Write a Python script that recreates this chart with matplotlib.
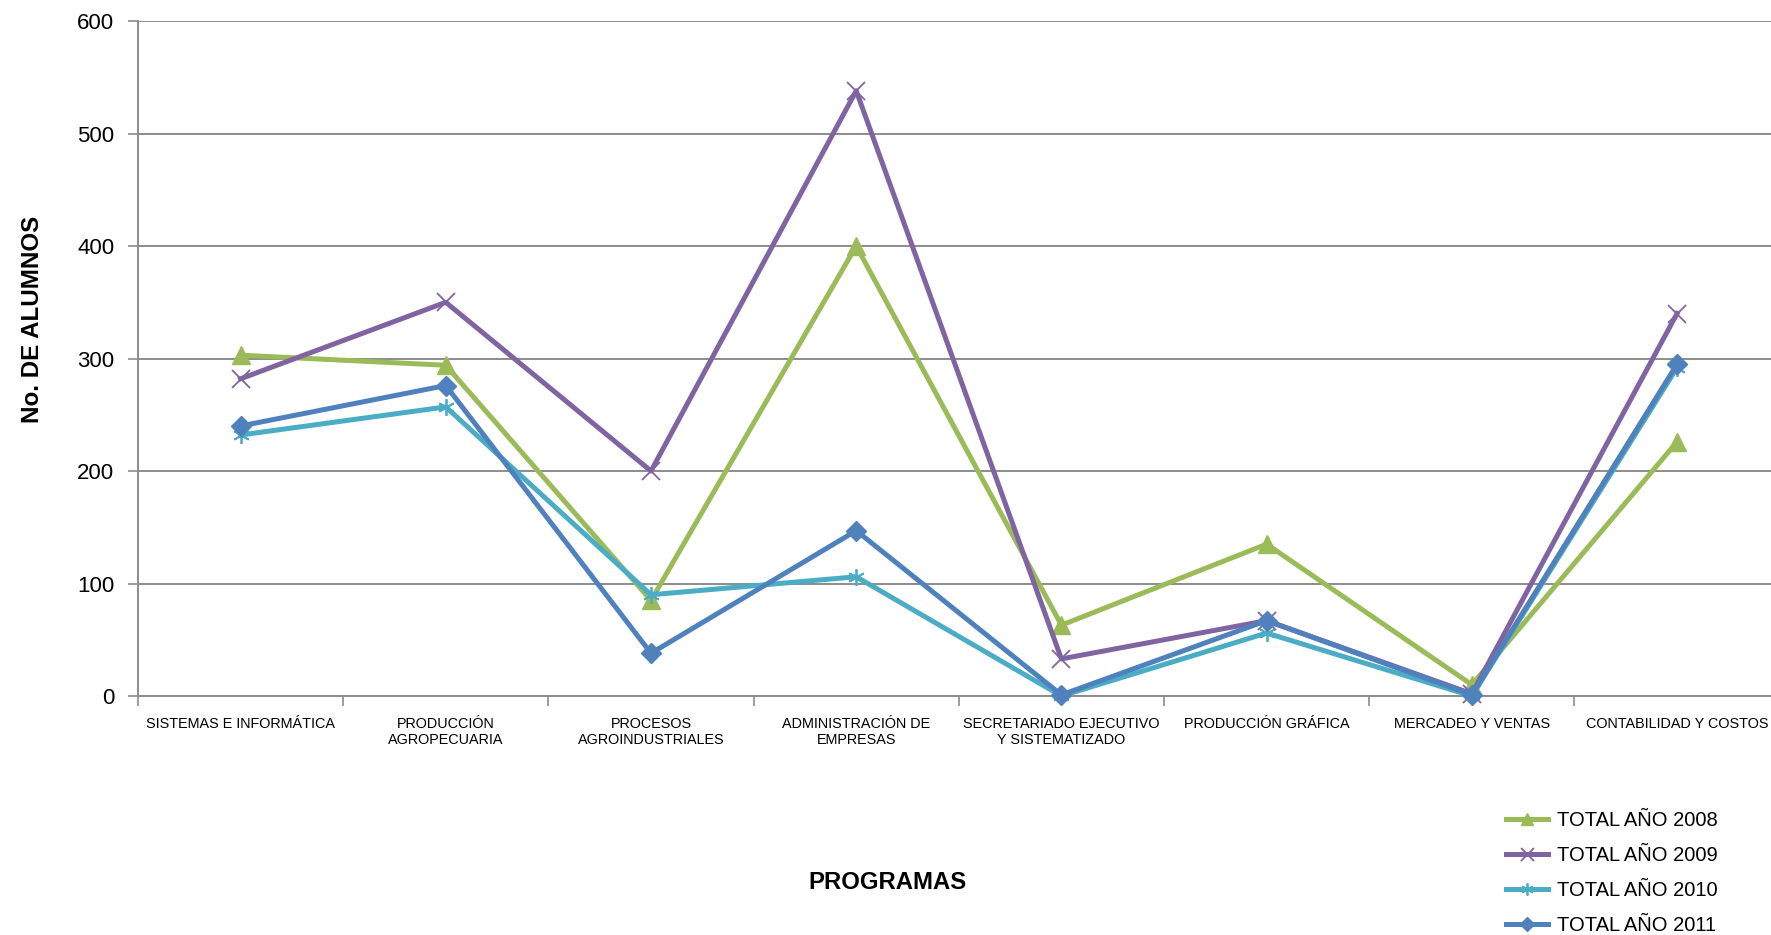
import matplotlib
matplotlib.use("Agg")
import matplotlib.pyplot as plt
from matplotlib.ticker import FixedLocator

programas = [
    "SISTEMAS E INFORMÁTICA",
    "PRODUCCIÓN\nAGROPECUARIA",
    "PROCESOS\nAGROINDUSTRIALES",
    "ADMINISTRACIÓN DE\nEMPRESAS",
    "SECRETARIADO EJECUTIVO\nY SISTEMATIZADO",
    "PRODUCCIÓN GRÁFICA",
    "MERCADEO Y VENTAS",
    "CONTABILIDAD Y COSTOS",
]

total_2008 = [303, 294, 85, 400, 63, 135, 10, 226]
total_2009 = [282, 350, 200, 538, 33, 67, 2, 340]
total_2010 = [232, 257, 90, 106, 0, 56, 0, 292]
total_2011 = [240, 276, 38, 147, 1, 67, 1, 295]

series_names = ["TOTAL AÑO 2008", "TOTAL AÑO 2009", "TOTAL AÑO 2010", "TOTAL AÑO 2011"]

plt.rcParams["font.family"] = ["Liberation Sans", "DejaVu Sans"]

fig = plt.figure(figsize=(17.71, 9.35), dpi=100)
# el area del grafico se sale un poco por la derecha, como en la imagen original
ax = fig.add_axes([0.0779, 0.2556, 0.927, 0.7219])

x = list(range(len(programas)))

# estilos de cada serie (colores Excel 2007)
styles = [
    dict(color="#9BBB59", marker="^", markersize=12.5, markeredgewidth=1),
    dict(color="#8064A2", marker="x", markersize=13, markeredgewidth=1.3),
    dict(color="#4BACC6", marker=(6, 2, 0), markersize=12, markeredgewidth=1.3),
    dict(color="#4F81BD", marker="D", markersize=10.5, markeredgewidth=1),
]

for values, name, st in zip([total_2008, total_2009, total_2010, total_2011], series_names, styles):
    ax.plot(x, values, label=name, linewidth=3.6, clip_on=False, zorder=3, **st)

ax.set_xlim(-0.5, len(programas) - 0.5)
ax.set_ylim(0, 600)
ax.set_yticks(range(0, 601, 100))
ax.yaxis.grid(True, color="#8C8C8C", linewidth=1.4)
ax.set_axisbelow(True)

ax.set_xticks(x)
ax.set_xticklabels(programas, fontsize=10.4, linespacing=1.2)
ax.xaxis.set_minor_locator(FixedLocator([i - 0.5 for i in range(len(programas) + 1)]))
ax.tick_params(axis="x", which="major", length=0, pad=15)
ax.tick_params(axis="x", which="minor", length=7, width=1.2, color="#8C8C8C", direction="out")
ax.tick_params(axis="y", length=7, width=1.2, color="#8C8C8C", pad=10, labelsize=16)

for side in ["top", "right"]:
    ax.spines[side].set_visible(False)
for side in ["left", "bottom"]:
    ax.spines[side].set_color("#8C8C8C")
    ax.spines[side].set_linewidth(1.4)

ax.set_ylabel("No. DE ALUMNOS", fontsize=17.4, fontweight="bold", labelpad=0)
ax.yaxis.set_label_coords(-0.0575, 0.5585)
fig.text(0.501, 0.0565, "PROGRAMAS", fontsize=17.2, fontweight="bold", ha="center", va="center")

fig.legend(loc="upper left", bbox_to_anchor=(0.8504, 0.133), frameon=False,
           fontsize=14.5, handlelength=2.1, handletextpad=0.45, labelspacing=0.8,
           borderpad=0, borderaxespad=0, markerscale=0.72)

plt.savefig("out.png", dpi=100)
plt.close()
